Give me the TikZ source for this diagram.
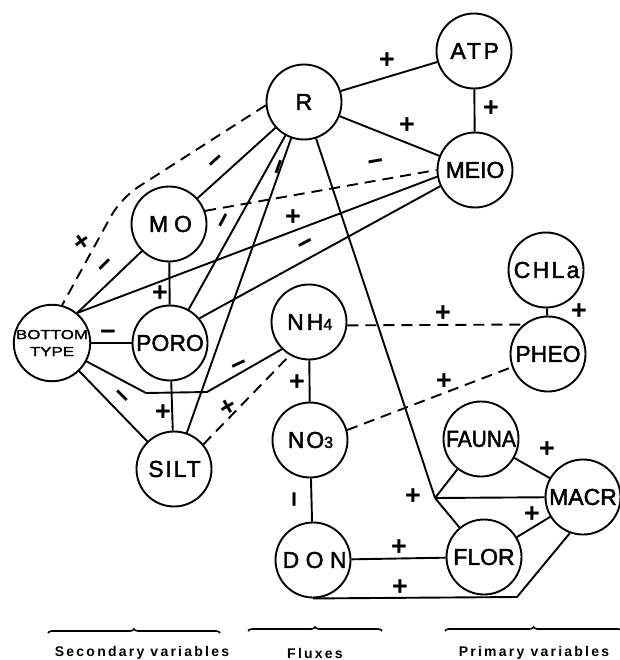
\documentclass[tikz,border=0pt]{standalone}
\usepackage{fontspec}
\setmainfont{Liberation Sans}
\usetikzlibrary{decorations.pathreplacing}
\newcommand{\spaced}[2][10]{{\addfontfeature{LetterSpace=#1}\kern\dimexpr 0.005em*#1\relax #2}}

\begin{document}
\begin{tikzpicture}
[x=1pt,y=-1pt,line width=1.9pt,%
  var/.style={shape=circle,draw,minimum size=75pt,inner sep=0pt,%
    font=\fontsize{23}{23}\selectfont\addfontfeature{FakeBold=2}},%
  sgn/.style={inner sep=0pt,font=\bfseries\fontsize{27}{27}\selectfont},%
  dsh/.style={dash pattern=on 11pt off 7pt},%
  brc/.style={decorate,decoration={brace,amplitude=4pt},line width=1.6pt},%
  grp/.style={font=\bfseries\fontsize{14}{14}\selectfont\addfontfeature{LetterSpace=16}}]
\useasboundingbox (0,0) rectangle (619,660);
\node[var] (R) at (304,102) {R};
\node[var] (ATP) at (474,51) {\spaced[12]{ATP}};
\node[var] (MEIO) at (475,170) {MEIO};
\node[var] (MO) at (169,224) {\spaced[26]{MO}};
\node[var] (CHLa) at (546,270) {\spaced[10]{CHLa}};
\node[var] (PHEO) at (548,354) {PHEO};
\node[var] (NH4) at (309,322) {\spaced[13]{NH}{\fontsize{16}{16}\selectfont 4}};
\node[var,align=center,font=\fontsize{13}{17}\selectfont\addfontfeature{FakeStretch=1.3,FakeBold=2}] (BT) at (52,343) {BOTTOM\\TYPE};
\node[var] (PORO) at (170,343) {PORO};
\node[var] (SILT) at (174,469) {\spaced[8]{SILT}};
\node[var] (NO3) at (310,440) {\spaced[8]{NO}{\fontsize{16}{16}\selectfont 3}};
\node[var] (DON) at (313,560) {\spaced[28]{DON}};
\node[var,font=\fontsize{23}{23}\selectfont\addfontfeature{FakeStretch=0.91,FakeBold=2}] (FAUNA) at (481,439) {FAUNA};
\node[var] (MACR) at (583,497) {MACR};
\node[var] (FLOR) at (484,557) {FLOR};
\coordinate (k1) at (121,198);
\coordinate (k2) at (146,393);
\coordinate (k3) at (207,392);
\coordinate (k4) at (517,597);
\coordinate (J) at (435,498);
\draw (R) -- (ATP);
\draw (ATP) -- (MEIO);
\draw (R) -- (MEIO);
\draw[dsh,rounded corners=20pt] (R.185) -- (k1) -- (BT.75);
\draw (R) -- (MO);
\draw (R) -- (PORO);
\draw (R) -- (SILT);
\draw (R) -- (J);
\draw (J) -- (FAUNA);
\draw (J) -- (MACR);
\draw (J) -- (FLOR);
\draw[dsh] (MO.20) -- (MEIO.west);
\draw (MO) -- (PORO);
\draw (BT.50) -- (MO.225);
\draw (BT.50) -- (MEIO.190);
\draw (PORO.40) -- (MEIO.205);
\draw (BT) -- (PORO);
\draw (BT) -- (k2) -- (k3) -- (NH4.225);
\draw (BT) -- (SILT);
\draw (PORO) -- (SILT);
\draw[dsh] (SILT.40) -- (NH4.240);
\draw (NH4) -- (NO3);
\draw (NO3) -- (DON);
\draw[dsh] (NH4.-5) -- (PHEO.130);
\draw (CHLa) -- (PHEO);
\draw[dsh] (NO3.15) -- (PHEO.200);
\draw (FAUNA) -- (MACR);
\draw (FLOR) -- (MACR);
\draw (DON) -- (FLOR);
\draw (DON.south) -- (k4) -- (MACR.250);
\node[sgn] (p1) at (387,61) {+};
\node[sgn] (p2) at (491,109) {+};
\node[sgn] (p3) at (407,126) {+};
\node[sgn,rotate=35] (p4) at (82,242) {+};
\node[sgn] (p5) at (160,294) {+};
\node[sgn] (p6) at (293,218) {+};
\node[sgn] (p7) at (163,413) {+};
\node[sgn,rotate=30] (p8) at (228,408) {+};
\node[sgn] (p9) at (297,383) {+};
\node[sgn] (p10) at (443,314) {+};
\node[sgn] (p11) at (579,312) {+};
\node[sgn] (p12) at (444,382) {+};
\node[sgn] (p13) at (413,497) {+};
\node[sgn] (p14) at (547,450) {+};
\node[sgn] (p15) at (532,515) {+};
\node[sgn] (p16) at (399,548) {+};
\node[sgn] (p17) at (400,588) {+};
\node[sgn,rotate=42] (m1) at (218,163) {−};
\node[sgn,rotate=45] (m2) at (107,267) {−};
\node[sgn,rotate=62] (m3) at (227,222) {−};
\node[sgn,rotate=70] (m4) at (282,168) {−};
\node[sgn,rotate=10] (m5) at (376,165) {−};
\node[sgn,rotate=28] (m6) at (307,246) {−};
\node[sgn] (m7) at (108,335) {−};
\node[sgn,rotate=25] (m8) at (240,367) {−};
\node[sgn,rotate=-45] (m9) at (120,398) {−};
\node[sgn,rotate=90] (m10) at (298,500) {−};
\draw[brc] (48,633) -- (220,633);
\draw[brc] (248,631) -- (382,631);
\draw[brc] (445,631) -- (622,631);
\node[grp] (sec) at (142,653) {Secondary variables};
\node[grp] (flx) at (315,653) {Fluxes};
\node[grp] (pri) at (534,653) {Primary variables};
\end{tikzpicture}
\end{document}
